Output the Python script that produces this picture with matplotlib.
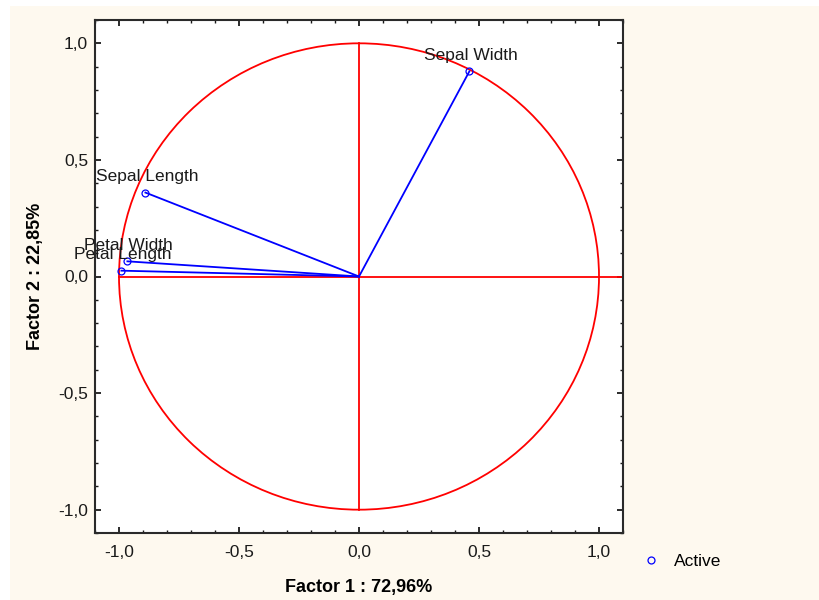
import numpy as np
import matplotlib
matplotlib.use("Agg")
import matplotlib.pyplot as plt
from matplotlib.patches import Circle, Rectangle
from matplotlib.ticker import MultipleLocator, FuncFormatter
from matplotlib.lines import Line2D

plt.rcParams['font.family'] = ['Liberation Sans', 'DejaVu Sans']

# Variable coordinates on the first two factors
variables = ["Sepal Length", "Sepal Width", "Petal Length", "Petal Width"]
factor1 = [-0.89, 0.46, -0.99, -0.965]
factor2 = [0.36, 0.88, 0.025, 0.065]

xlabel = "Factor 1 : 72,96%"
ylabel = "Factor 2 : 22,85%"
legend_label = "Active"

fig = plt.figure(figsize=(8.19, 6.0), dpi=100, facecolor="white")
fig.patches.append(Rectangle((10 / 819, 0), 1, 1 - 6 / 600, transform=fig.transFigure,
                             facecolor="#FEF9EF", edgecolor="none", zorder=-10))

ax = fig.add_axes([95 / 819, 1 - 533 / 600, 528 / 819, 513 / 600])
ax.set_facecolor("white")
ax.set_xlim(-1.1, 1.1)
ax.set_ylim(-1.1, 1.1)

# Unit circle and axis cross
ax.add_patch(Circle((0, 0), 1.0, fill=False, edgecolor="#FF0000", linewidth=1.3, zorder=2))
ax.plot([-1.0, 1.1], [0, 0], color="#FF0000", linewidth=1.3, zorder=2)
ax.plot([0, 0], [-1.0, 1.0], color="#FF0000", linewidth=1.3, zorder=2)

# Variable vectors
for name, x, y in zip(variables, factor1, factor2):
    ax.plot([0, x], [0, y], color="#0000FF", linewidth=1.3, zorder=3)
    ax.plot(x, y, marker="o", markersize=5, markerfacecolor="none",
            markeredgecolor="#0000FF", markeredgewidth=0.9, zorder=4)
    ax.annotate(name, (x, y), xytext=(1, 6), textcoords="offset points",
                ha="center", va="bottom", fontsize=12.5, color="#1a1a1a", zorder=5)

fmt = FuncFormatter(lambda v, p: f"{v:.1f}".replace(".", ","))
for axis in (ax.xaxis, ax.yaxis):
    axis.set_major_locator(MultipleLocator(0.5))
    axis.set_minor_locator(MultipleLocator(0.1))
    axis.set_major_formatter(fmt)
ax.tick_params(which="both", direction="in", top=True, right=True, colors="#1a1a1a",
               labelsize=12.5)
ax.tick_params(which="major", length=4, width=1.3)
ax.tick_params(axis="x", which="major", pad=8.5)
ax.tick_params(axis="y", which="major", pad=5)
ax.tick_params(which="minor", length=2, width=1.0)
for s in ax.spines.values():
    s.set_linewidth(1.5)
    s.set_color("#2a2a2a")

ax.set_xlabel(xlabel, fontsize=13, fontweight="bold", labelpad=14)
ax.set_ylabel(ylabel, fontsize=13, fontweight="bold", labelpad=10)

handle = Line2D([], [], linestyle="none", marker="o", markersize=5, markerfacecolor="none",
                markeredgecolor="#0000FF", markeredgewidth=0.9)
fig.legend([handle], [legend_label], loc="center left",
           bbox_to_anchor=(627 / 819, 1 - 561 / 600), frameon=False, fontsize=12.5,
           handlelength=1.0, handletextpad=0.8)

fig.savefig("out.png", dpi=100, facecolor=fig.get_facecolor())
